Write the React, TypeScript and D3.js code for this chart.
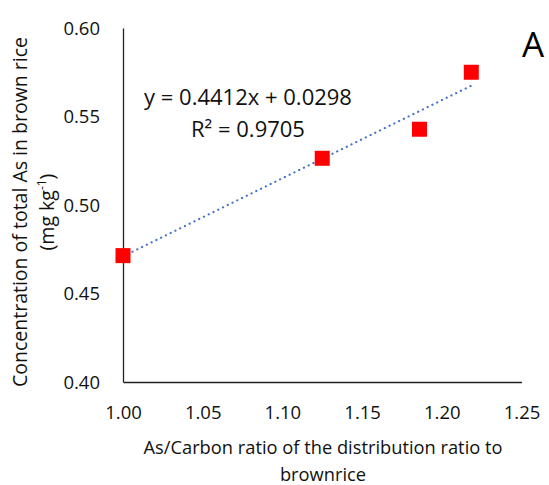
import React, { useEffect, useRef } from 'react';
import * as d3 from 'd3';

// values
const ratioValues = [1.0, 1.125, 1.186, 1.2185];
const arsenicValues = [0.4714, 0.5264, 0.5428, 0.575];
const xTicks = [1.0, 1.05, 1.1, 1.15, 1.2, 1.25];
const yTicks = [0.4, 0.45, 0.5, 0.55, 0.6];
const slope = 0.4412;
const intercept = 0.0298;
const equationLabel = 'y = 0.4412x + 0.0298';
const r2Label = 'R² = 0.9705';

const FONT = "'Open Sans', 'DejaVu Sans', sans-serif";

export default function App() {
    const ref = useRef<SVGSVGElement>(null);

    useEffect(() => {
        const totalWidth = 549;
        const totalHeight = 485;
        const margin = { top: 28, right: 27.5, bottom: 103, left: 123 };
        const width = totalWidth - margin.left - margin.right;
        const height = totalHeight - margin.top - margin.bottom;

        const root = d3.select(ref.current);
        root.selectAll('*').remove();
        root.attr('width', totalWidth).attr('height', totalHeight);

        const svg = root.append('g')
            .attr('transform', `translate(${margin.left},${margin.top})`);

        const xScale = d3.scaleLinear().domain([1.0, 1.25]).range([0, width]);
        const yScale = d3.scaleLinear().domain([0.4, 0.6]).range([height, 0]);

        // axes, no tick marks
        const xAxis = svg.append('g')
            .attr('transform', `translate(0,${height})`)
            .call(d3.axisBottom(xScale).tickValues(xTicks).tickFormat(d3.format('.2f')).tickSize(0).tickPadding(24));
        const yAxis = svg.append('g')
            .call(d3.axisLeft(yScale).tickValues(yTicks).tickFormat(d3.format('.2f')).tickSize(0).tickPadding(23));

        [xAxis, yAxis].forEach(a => {
            a.select('.domain').attr('stroke', '#222').attr('stroke-width', 1.3);
            a.selectAll('text')
                .style('font-family', FONT)
                .style('font-size', '18.5px')
                .attr('fill', '#111');
        });
        yAxis.selectAll('text').attr('dy', '0.35em');

        // trendline
        const [x0, x1] = d3.extent(ratioValues) as [number, number];
        svg.append('line')
            .attr('x1', xScale(x0))
            .attr('y1', yScale(slope * x0 + intercept))
            .attr('x2', xScale(x1))
            .attr('y2', yScale(slope * x1 + intercept))
            .attr('stroke', '#4472C4')
            .attr('stroke-width', 2.2)
            .attr('stroke-linecap', 'round')
            .attr('stroke-dasharray', '0.1 5.2');

        // markers
        const size = 15;
        svg.selectAll('rect.pt')
            .data(ratioValues.map((x, i) => [x, arsenicValues[i]]))
            .enter()
            .append('rect')
            .attr('class', 'pt')
            .attr('x', d => xScale(d[0]) - size / 2)
            .attr('y', d => yScale(d[1]) - size / 2)
            .attr('width', size)
            .attr('height', size)
            .attr('fill', '#FF0000');

        // equation text
        svg.append('text')
            .attr('x', 248 - margin.left)
            .attr('y', 105 - margin.top)
            .attr('text-anchor', 'middle')
            .style('font-family', FONT)
            .style('font-size', '22px')
            .attr('fill', '#111')
            .text(equationLabel);
        svg.append('text')
            .attr('x', 248 - margin.left)
            .attr('y', 137 - margin.top)
            .attr('text-anchor', 'middle')
            .style('font-family', FONT)
            .style('font-size', '22px')
            .attr('fill', '#111')
            .text(r2Label);

        // x axis title
        const xt = root.append('text')
            .attr('text-anchor', 'middle')
            .style('font-family', FONT)
            .style('font-size', '18.3px')
            .attr('fill', '#111');
        xt.append('tspan').attr('x', 323).attr('y', 454).text('As/Carbon ratio of the distribution ratio to');
        xt.append('tspan').attr('x', 323).attr('y', 481).text('brownrice');

        // y axis title
        const yt = root.append('text')
            .attr('text-anchor', 'middle')
            .attr('transform', 'translate(0,212) rotate(-90)')
            .style('font-family', FONT)
            .style('font-size', '19.5px')
            .attr('fill', '#111');
        yt.append('tspan').attr('x', 0).attr('y', 27).text('Concentration of total As in brown rice');
        const second = yt.append('tspan').attr('x', 0).attr('y', 54);
        second.append('tspan').text('(mg kg');
        second.append('tspan').attr('baseline-shift', 'super').style('font-size', '12px').text('-1');
        second.append('tspan').text(')');

        // panel letter
        root.append('text')
            .attr('x', 533)
            .attr('y', 57)
            .attr('text-anchor', 'middle')
            .style('font-family', FONT)
            .style('font-size', '35px')
            .attr('fill', '#000')
            .text('A');
    }, []);

    return (
        <svg ref={ref} style={{ position: 'absolute', left: 0, top: 0, background: '#fff' }} />
    );
}
